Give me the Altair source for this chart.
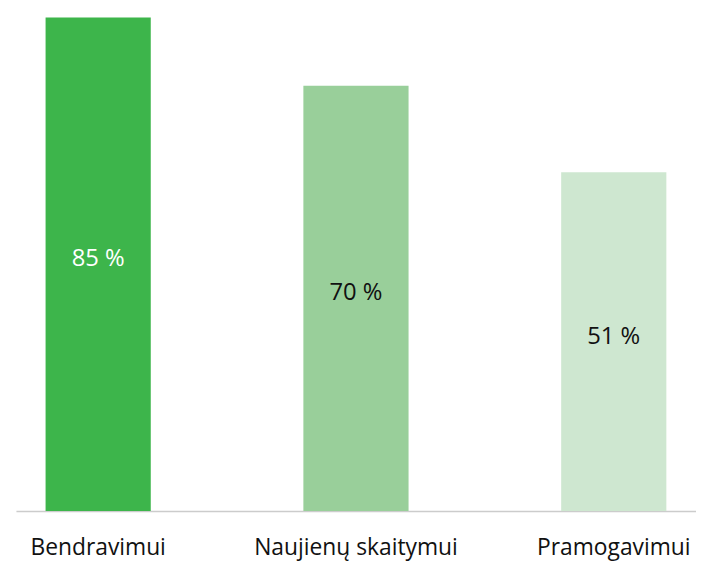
import altair as alt
import pandas as pd

categories = ["Bendravimui", "Naujienų skaitymui", "Pramogavimui"]
values = [85, 70, 51]
labels = ["85 %", "70 %", "51 %"]
bar_colors = ["#3db54b", "#99cf9a", "#cee7d0"]
text_colors = ["#ffffff", "#111111", "#111111"]
axis_min = -23.3

df = pd.DataFrame({"cat": categories, "value": values, "label": labels,
                   "tcolor": text_colors,
                   "base": [axis_min] * len(values)})
df["mid"] = (df["value"] + df["base"]) / 2

FONT = "Open Sans"

x = alt.X("cat:N", sort=categories, title=None,
          scale=alt.Scale(paddingInner=0.592, paddingOuter=0.115),
          axis=alt.Axis(labelAngle=0, ticks=False, labelFontSize=23, labelFont=FONT,
                        labelColor="#111111", labelPadding=26, domainColor="#cccccc",
                        domainWidth=1.5, grid=False, labelFlush=False, labelLimit=0,
                        labelOverlap=False))
yscale = alt.Scale(domain=[axis_min, 85], nice=False, zero=False)

bars = alt.Chart(df).mark_bar().encode(
    x=x,
    y=alt.Y("value:Q", scale=yscale, axis=None),
    y2="base:Q",
    color=alt.Color("cat:N", scale=alt.Scale(domain=categories, range=bar_colors), legend=None),
)

text = alt.Chart(df).mark_text(fontSize=24, font=FONT, baseline="middle", dy=-5).encode(
    x=alt.X("cat:N", sort=categories),
    y=alt.Y("mid:Q", scale=yscale, axis=None),
    text="label:N",
    color=alt.Color("tcolor:N", scale=None, legend=None),
)

chart = (bars + text).resolve_scale(color="independent").properties(
    width=686, height=498,
    autosize=alt.AutoSizeParams(type="none"),
    padding={"left": 8, "top": 7, "right": 0, "bottom": 60},
).configure_view(stroke=None)

chart.save("out.html", embed_options={"renderer": "svg", "actions": False})
